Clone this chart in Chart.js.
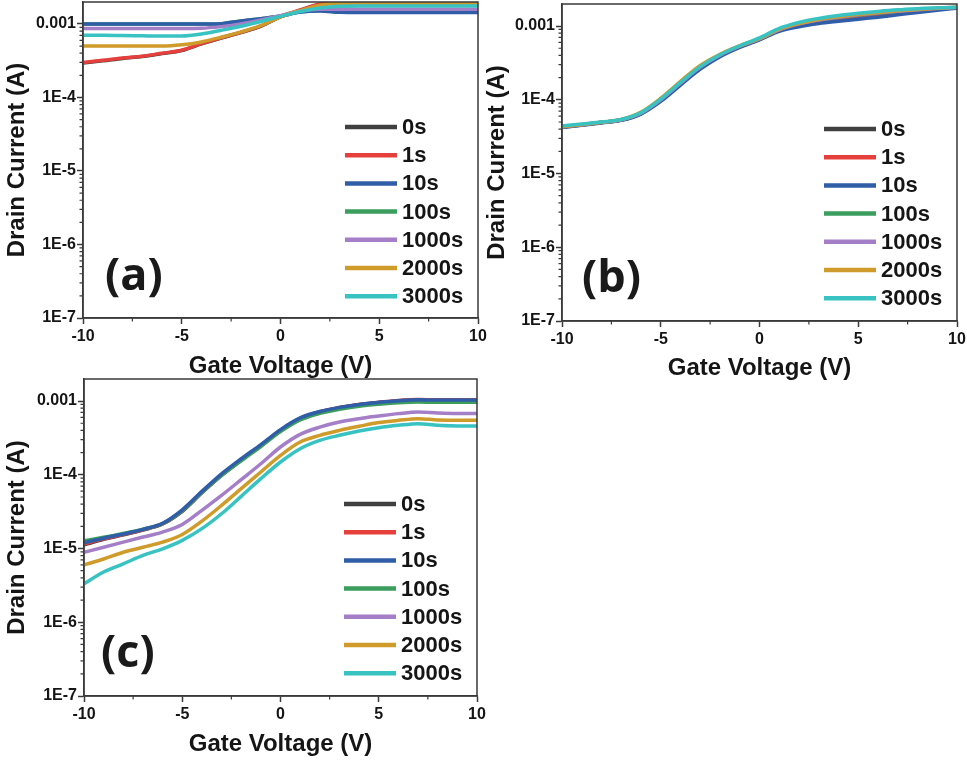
<!DOCTYPE html>
<html>
<head>
<meta charset="utf-8">
<script src="https://cdn.jsdelivr.net/npm/chart.js@4.4.1/dist/chart.umd.min.js"></script>
<style>
  body { margin: 0; background: #fff; width: 967px; height: 763px; position: relative; overflow: hidden; }
  canvas { position: absolute; }
</style>
</head>
<body>
<canvas id="chartA" width="492" height="385" style="left:0;top:0"></canvas>
<canvas id="chartB" width="487" height="385" style="left:480px;top:0"></canvas>
<canvas id="chartC" width="492" height="391" style="left:0;top:372px"></canvas>
<script>
// ---- data ----
const gateVoltage = [-10, -9, -8, -7, -6, -5, -4, -3, -2, -1, 0, 1, 2, 3, 4, 5, 6, 7, 8, 9, 10];
const seriesLabels = ['0s', '1s', '10s', '100s', '1000s', '2000s', '3000s'];
const xTickValues = [-10, -5, 0, 5, 10];
const xTickLabels = ['-10', '-5', '0', '5', '10'];
const xMinorTicks = [-7.5, -2.5, 2.5, 7.5];
const yTickValues = [1e-7, 1e-6, 1e-5, 1e-4, 1e-3];
const yTickLabels = ['1E-7', '1E-6', '1E-5', '1E-4', '0.001'];

// (a)
const a0s = [2.95e-4, 3.15e-4, 3.4e-4, 3.6e-4, 3.95e-4, 4.35e-4, 5.35e-4, 6.45e-4, 7.65e-4, 9.3e-4, 1.25e-3, 1.54e-3, 1.84e-3, 1.95e-3, 1.95e-3, 1.95e-3, 1.95e-3, 1.95e-3, 1.95e-3, 1.95e-3, 1.95e-3];
const a1s = [3.0e-4, 3.2e-4, 3.45e-4, 3.65e-4, 4.0e-4, 4.4e-4, 5.4e-4, 6.5e-4, 7.7e-4, 9.4e-4, 1.26e-3, 1.55e-3, 1.87e-3, 1.97e-3, 1.97e-3, 1.97e-3, 1.97e-3, 1.97e-3, 1.97e-3, 1.97e-3, 1.97e-3];
const a10s = [1.0e-3, 1.0e-3, 1.0e-3, 1.0e-3, 1.0e-3, 1.0e-3, 1.0e-3, 1.01e-3, 1.1e-3, 1.18e-3, 1.28e-3, 1.45e-3, 1.5e-3, 1.44e-3, 1.43e-3, 1.43e-3, 1.43e-3, 1.43e-3, 1.43e-3, 1.43e-3, 1.43e-3];
const a100s = [1.0e-3, 1.0e-3, 1.0e-3, 1.0e-3, 1.0e-3, 1.0e-3, 1.0e-3, 1.01e-3, 1.1e-3, 1.18e-3, 1.28e-3, 1.45e-3, 1.52e-3, 1.46e-3, 1.45e-3, 1.45e-3, 1.45e-3, 1.45e-3, 1.45e-3, 1.45e-3, 1.45e-3];
const a1000s = [8.7e-4, 8.7e-4, 8.7e-4, 8.7e-4, 8.7e-4, 8.7e-4, 8.75e-4, 9.2e-4, 1.0e-3, 1.13e-3, 1.3e-3, 1.5e-3, 1.58e-3, 1.58e-3, 1.58e-3, 1.58e-3, 1.58e-3, 1.58e-3, 1.58e-3, 1.58e-3, 1.58e-3];
const a2000s = [5.0e-4, 5.0e-4, 5.0e-4, 5.0e-4, 5.0e-4, 5.2e-4, 5.7e-4, 6.6e-4, 7.8e-4, 9.5e-4, 1.25e-3, 1.52e-3, 1.8e-3, 1.93e-3, 1.95e-3, 1.95e-3, 1.95e-3, 1.95e-3, 1.95e-3, 1.95e-3, 1.95e-3];
const a3000s = [7.0e-4, 7.0e-4, 6.95e-4, 6.9e-4, 6.85e-4, 6.85e-4, 7.3e-4, 8.2e-4, 9.3e-4, 1.08e-3, 1.27e-3, 1.48e-3, 1.65e-3, 1.74e-3, 1.76e-3, 1.76e-3, 1.76e-3, 1.76e-3, 1.76e-3, 1.76e-3, 1.76e-3];

// (b)
const b0s = [4.25e-5, 4.55e-5, 4.9e-5, 5.3e-5, 6.5e-5, 9.8e-5, 1.64e-4, 2.7e-4, 3.95e-4, 5.25e-4, 6.6e-4, 8.8e-4, 1.03e-3, 1.15e-3, 1.25e-3, 1.34e-3, 1.43e-3, 1.52e-3, 1.61e-3, 1.7e-3, 1.78e-3];
const b1s = [4.3e-5, 4.6e-5, 4.95e-5, 5.35e-5, 6.6e-5, 1.0e-4, 1.66e-4, 2.72e-4, 3.97e-4, 5.28e-4, 6.62e-4, 8.85e-4, 1.04e-3, 1.16e-3, 1.26e-3, 1.35e-3, 1.44e-3, 1.53e-3, 1.62e-3, 1.71e-3, 1.78e-3];
const b10s = [4.2e-5, 4.5e-5, 4.85e-5, 5.25e-5, 6.4e-5, 9.5e-5, 1.58e-4, 2.6e-4, 3.85e-4, 5.15e-4, 6.5e-4, 8.5e-4, 9.8e-4, 1.08e-3, 1.16e-3, 1.24e-3, 1.32e-3, 1.42e-3, 1.53e-3, 1.64e-3, 1.75e-3];
const b100s = [4.3e-5, 4.6e-5, 4.95e-5, 5.35e-5, 6.6e-5, 1.0e-4, 1.67e-4, 2.75e-4, 4.0e-4, 5.3e-4, 6.7e-4, 8.9e-4, 1.06e-3, 1.2e-3, 1.31e-3, 1.4e-3, 1.49e-3, 1.57e-3, 1.65e-3, 1.72e-3, 1.78e-3];
const b1000s = [4.3e-5, 4.6e-5, 4.95e-5, 5.35e-5, 6.6e-5, 1.0e-4, 1.68e-4, 2.77e-4, 4.02e-4, 5.32e-4, 6.7e-4, 8.9e-4, 1.07e-3, 1.21e-3, 1.32e-3, 1.42e-3, 1.51e-3, 1.59e-3, 1.66e-3, 1.73e-3, 1.79e-3];
const b2000s = [4.3e-5, 4.6e-5, 4.95e-5, 5.4e-5, 6.8e-5, 1.05e-4, 1.78e-4, 2.92e-4, 4.15e-4, 5.4e-4, 6.75e-4, 9.0e-4, 1.08e-3, 1.23e-3, 1.34e-3, 1.44e-3, 1.53e-3, 1.61e-3, 1.68e-3, 1.74e-3, 1.8e-3];
const b3000s = [4.4e-5, 4.7e-5, 5.0e-5, 5.4e-5, 6.7e-5, 1.02e-4, 1.72e-4, 2.82e-4, 4.08e-4, 5.4e-4, 6.9e-4, 9.3e-4, 1.12e-3, 1.27e-3, 1.39e-3, 1.49e-3, 1.58e-3, 1.66e-3, 1.72e-3, 1.77e-3, 1.8e-3];

// (c)
const c0s = [1.12e-5, 1.33e-5, 1.53e-5, 1.78e-5, 2.15e-5, 3.2e-5, 5.7e-5, 9.8e-5, 1.58e-4, 2.48e-4, 3.95e-4, 5.8e-4, 7.1e-4, 8.1e-4, 8.9e-4, 9.5e-4, 1.0e-3, 1.04e-3, 1.03e-3, 1.03e-3, 1.03e-3];
const c1s = [1.15e-5, 1.35e-5, 1.55e-5, 1.8e-5, 2.17e-5, 3.25e-5, 5.8e-5, 1.0e-4, 1.6e-4, 2.5e-4, 4.0e-4, 5.85e-4, 7.15e-4, 8.15e-4, 9.0e-4, 9.6e-4, 1.02e-3, 1.05e-3, 1.04e-3, 1.04e-3, 1.04e-3];
const c10s = [1.2e-5, 1.38e-5, 1.57e-5, 1.82e-5, 2.2e-5, 3.35e-5, 5.95e-5, 1.03e-4, 1.65e-4, 2.57e-4, 4.1e-4, 5.9e-4, 7.2e-4, 8.2e-4, 9.0e-4, 9.6e-4, 1.01e-3, 1.04e-3, 1.03e-3, 1.03e-3, 1.03e-3];
const c100s = [1.27e-5, 1.42e-5, 1.6e-5, 1.83e-5, 2.18e-5, 3.25e-5, 5.75e-5, 9.8e-5, 1.55e-4, 2.42e-4, 3.85e-4, 5.55e-4, 6.8e-4, 7.75e-4, 8.5e-4, 9.05e-4, 9.5e-4, 9.7e-4, 9.6e-4, 9.6e-4, 9.6e-4];
const c1000s = [8.9e-6, 1.04e-5, 1.22e-5, 1.43e-5, 1.67e-5, 2.12e-5, 3.3e-5, 5.25e-5, 8.6e-5, 1.41e-4, 2.38e-4, 3.53e-4, 4.43e-4, 5.19e-4, 5.77e-4, 6.26e-4, 6.75e-4, 7.1e-4, 6.9e-4, 6.8e-4, 6.8e-4];
const c2000s = [6.0e-6, 7.2e-6, 8.9e-6, 1.04e-5, 1.22e-5, 1.55e-5, 2.35e-5, 3.84e-5, 6.5e-5, 1.09e-4, 1.83e-4, 2.78e-4, 3.43e-4, 4.0e-4, 4.54e-4, 5.1e-4, 5.47e-4, 5.77e-4, 5.55e-4, 5.47e-4, 5.47e-4];
const c3000s = [3.33e-6, 4.8e-6, 6.2e-6, 8.05e-6, 9.9e-6, 1.29e-5, 1.86e-5, 2.96e-5, 5.1e-5, 8.85e-5, 1.49e-4, 2.26e-4, 2.93e-4, 3.43e-4, 3.92e-4, 4.35e-4, 4.68e-4, 4.93e-4, 4.7e-4, 4.6e-4, 4.57e-4];

// ---- styles ----
const seriesColors = ['#404040', '#e5403c', '#2f5da8', '#3b9e5e', '#a57ec8', '#cf9b2a', '#38c2c2'];
const drawOrder = [6, 5, 3, 4, 2, 1, 0];   // lower = drawn on top
const fontFamily = '"Liberation Sans", Arial, sans-serif';
const textColor = '#151515';
const axisColor = '#3a3a3a';

Chart.defaults.font.family = fontFamily;
Chart.defaults.font.weight = 'bold';
Chart.defaults.color = textColor;

function buildDatasets(series) {
  return series.map((vals, i) => ({
    label: seriesLabels[i],
    data: vals.map((v, j) => ({ x: gateVoltage[j], y: v })),
    borderColor: seriesColors[i],
    backgroundColor: seriesColors[i],
    borderWidth: 3.5,
    pointRadius: 0,
    cubicInterpolationMode: 'monotone',
    order: drawOrder[i]
  }));
}

// frame, minor ticks, legend and panel letter
const panelDecor = {
  id: 'panelDecor',
  afterDraw(chart, args, opts) {
    const { ctx, chartArea: a, scales } = chart;
    ctx.save();
    ctx.strokeStyle = axisColor;
    ctx.lineWidth = 1.5;
    ctx.strokeRect(a.left, a.top, a.right - a.left, a.bottom - a.top);

    ctx.lineWidth = 1.2;
    ctx.beginPath();
    xMinorTicks.forEach(v => {
      const px = scales.x.getPixelForValue(v);
      ctx.moveTo(px, a.bottom);
      ctx.lineTo(px, a.bottom + 3.5);
    });
    for (let e = -7; e <= -3; e++) {
      for (let m = 2; m <= 9; m++) {
        const v = m * Math.pow(10, e);
        if (v > scales.y.max) continue;
        const py = scales.y.getPixelForValue(v);
        ctx.moveTo(a.left, py);
        ctx.lineTo(a.left - 3.5, py);
      }
    }
    ctx.stroke();

    // legend
    ctx.font = 'bold 22px ' + fontFamily;
    ctx.textBaseline = 'middle';
    ctx.textAlign = 'left';
    seriesLabels.forEach((name, i) => {
      const y = a.top + 125 + i * 28.2;
      ctx.strokeStyle = seriesColors[i];
      ctx.lineWidth = 4.5;
      ctx.beginPath();
      ctx.moveTo(a.right - 133, y);
      ctx.lineTo(a.right - 81, y);
      ctx.stroke();
      ctx.fillStyle = textColor;
      ctx.fillText(name, a.right - 76, y + 1);
    });

    // panel letter
    ctx.font = 'bold 45px "Open Sans", sans-serif';
    ctx.fillStyle = '#1a1a1a';
    ctx.fillText(opts.letter, a.left + opts.letterX, a.top + 275);
    ctx.restore();
  }
};

function makePanel(id, series, cfg) {
  new Chart(document.getElementById(id), {
    type: 'line',
    data: { datasets: buildDatasets(series) },
    options: {
      responsive: false,
      animation: false,
      layout: { padding: { top: cfg.padTop, right: cfg.padRight, left: 0, bottom: 0 } },
      plugins: {
        legend: { display: false },
        tooltip: { enabled: false },
        panelDecor: { letter: cfg.letter, letterX: cfg.letterX }
      },
      scales: {
        x: {
          type: 'linear',
          min: -10,
          max: 10,
          afterBuildTicks: s => { s.ticks = xTickValues.map(v => ({ value: v })); },
          afterFit: s => { s.height = cfg.xHeight; s.paddingLeft = 0; s.paddingRight = 0; },
          ticks: {
            autoSkip: false,
            maxRotation: 0,
            padding: 3,
            color: textColor,
            font: { size: 16, weight: 'bold' },
            callback: (v, i) => xTickLabels[i]
          },
          grid: { drawOnChartArea: false, tickLength: 6, tickColor: axisColor, tickWidth: 1.5 },
          border: { display: true, color: axisColor, width: 1.5 },
          title: {
            display: true,
            text: 'Gate Voltage (V)',
            color: textColor,
            font: { size: 24, weight: 'bold' },
            padding: { top: 0, bottom: cfg.xTitlePad }
          }
        },
        y: {
          type: 'logarithmic',
          min: 1e-7,
          max: 1.99e-3,
          afterBuildTicks: s => { s.ticks = yTickValues.map(v => ({ value: v })); },
          afterFit: s => { s.width = cfg.yWidth; s.paddingTop = 0; s.paddingBottom = 0; },
          ticks: {
            autoSkip: false,
            padding: 1,
            color: textColor,
            font: { size: 16, weight: 'bold' },
            callback: (v, i) => yTickLabels[i]
          },
          grid: { drawOnChartArea: false, tickLength: 6, tickColor: axisColor, tickWidth: 1.5 },
          border: { display: true, color: axisColor, width: 1.5 },
          title: {
            display: true,
            text: 'Drain Current (A)',
            color: textColor,
            font: { size: 24, weight: 'bold' },
            padding: { top: 3, bottom: 0 }
          }
        }
      }
    },
    plugins: [panelDecor]
  });
}

makePanel('chartA', [a0s, a1s, a10s, a100s, a1000s, a2000s, a3000s],
  { padTop: 2, padRight: 14, yWidth: 83, xHeight: 67, xTitlePad: 4, letter: '(a)', letterX: 22 });
makePanel('chartB', [b0s, b1s, b10s, b100s, b1000s, b2000s, b3000s],
  { padTop: 4, padRight: 10, yWidth: 82, xHeight: 64, xTitlePad: 2, letter: '(b)', letterX: 20 });
makePanel('chartC', [c0s, c1s, c10s, c100s, c1000s, c2000s, c3000s],
  { padTop: 7, padRight: 15, yWidth: 84, xHeight: 67, xTitlePad: 4, letter: '(c)', letterX: 17 });
</script>
</body>
</html>
